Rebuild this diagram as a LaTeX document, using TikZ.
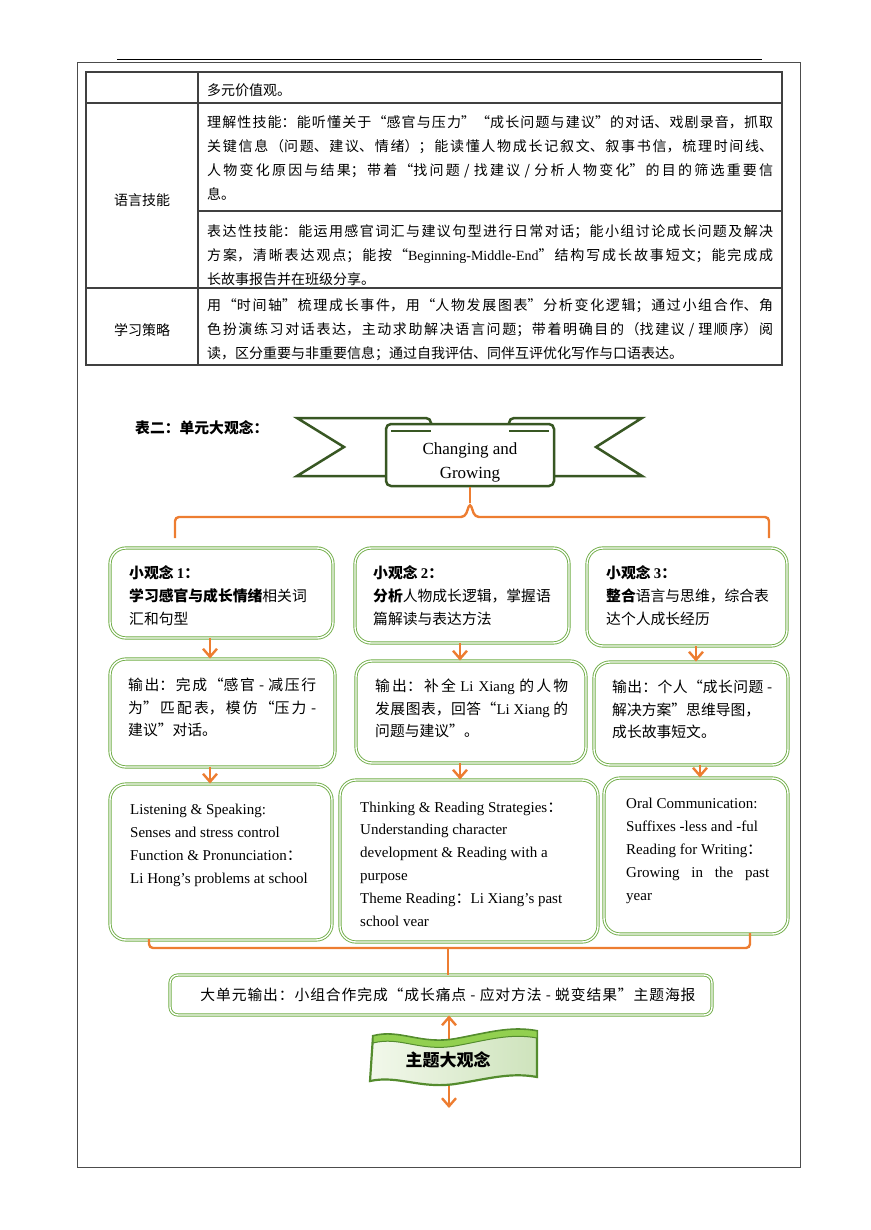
\documentclass[tikz,border=0pt]{standalone}
\usepackage{fontspec}
\setmainfont{Liberation Serif}
\newfontfamily\cjk{Noto Sans CJK SC}
\XeTeXlinebreaklocale "zh"
\XeTeXlinebreakskip=0pt plus 3pt
\tolerance=9999
\usepackage{xcolor}
\definecolor{boxgreen}{RGB}{112,173,71}
\definecolor{flowcolor}{RGB}{237,125,49}
\definecolor{bannergreen}{RGB}{56,87,35}
\definecolor{ribbondark}{RGB}{84,140,46}
\definecolor{ribbontop}{RGB}{146,208,80}
\definecolor{ribbonlight}{RGB}{242,248,235}
\definecolor{ribbonmid}{RGB}{206,227,188}
\usepackage{tikz}
\usetikzlibrary{arrows.meta}
\newcommand{\lat}[1]{{\rmfamily #1}}

\begin{document}
\begin{tikzpicture}[x=1pt, y=-1pt, >={Straight Barb[length=8pt,width=14pt]},
    tableline/.style={black!75, line width=1.1pt},
    celltext/.style={anchor=west, inner sep=0pt, text width=566pt, align=justify, font=\cjk\fontsize{14}{24}\selectfont},
    zhtext/.style={anchor=west, inner sep=0pt, align=left, font=\cjk\fontsize{14.8}{22.7}\selectfont},
    entext/.style={anchor=west, inner sep=0pt, align=left, font=\fontsize{15}{22.8}\selectfont},
    greenbox/.style={draw=boxgreen, double=white, double distance=1.4pt, line width=0.9pt, rounded corners=16pt, inner sep=0pt},
    flow/.style={->, draw=flowcolor, line width=2.4pt},
    brace/.style={draw=flowcolor, line width=2.4pt, rounded corners=4pt},
    banner/.style={draw=bannergreen, fill=white, line width=2.5pt, line join=miter}]
    \useasboundingbox (0,0) rectangle (870,1230);

    % page frame and table
    \draw[black, line width=0.8pt] (117,59) -- (762,59);
    \draw[black!70, line width=1pt] (77.5,63) rectangle (800,1167);
    \draw[tableline] (86,72) rectangle (782,365);
    \draw[tableline] (198,72) -- (198,365);
    \draw[tableline] (86,103) -- (782,103);
    \draw[tableline] (198,211) -- (782,211);
    \draw[tableline] (86,288) -- (782,288);

    \node[celltext] (values) at (207,90) {多元价值观。};
    \node[zhtext, anchor=center, font=\cjk\fontsize{14}{24}\selectfont] (skills) at (142,200) {语言技能};
    \node[zhtext, anchor=center, font=\cjk\fontsize{14}{24}\selectfont] (strategy) at (142,330) {学习策略};
    \node[celltext] (understand) at (207,158) {理解性技能：能听懂关于“感官与压力”“成长问题与建议”的对话、戏剧录音，抓取\linebreak 关键信息（问题、建议、情绪）；能读懂人物成长记叙文、叙事书信，梳理时间线、\linebreak 人物变化原因与结果；带着“找问题 / 找建议 / 分析人物变化”的目的筛选重要信\linebreak 息。};
    \node[celltext] (express) at (207,255) {表达性技能：能运用感官词汇与建议句型进行日常对话；能小组讨论成长问题及解决\linebreak 方案，清晰表达观点；能按“\lat{Beginning-Middle-End}”结构写成长故事短文；能完成成\linebreak 长故事报告并在班级分享。};
    \node[celltext] (method) at (207,330) {用“时间轴”梳理成长事件，用“人物发展图表”分析变化逻辑；通过小组合作、角\linebreak 色扮演练习对话表达，主动求助解决语言问题；带着明确目的（找建议 / 理顺序）阅\linebreak 读，区分重要与非重要信息；通过自我评估、同伴互评优化写作与口语表达。};

    % unit title banner
    \node[zhtext] (tabletitle) at (135,428) {\bfseries 表二：单元大观念：};
    \filldraw[banner] (386,476) -- (297,476) -- (344,447) -- (297,418) [rounded corners=5pt] -- (431,418) -- (431,432);
    \filldraw[banner] (554,476) -- (642,476) -- (596,447) -- (642,418) [rounded corners=5pt] -- (509,418) -- (509,432);
    \node[banner, rounded corners=5pt, minimum width=168pt, minimum height=62pt, inner sep=0pt, align=center,
        font=\fontsize{17}{24}\selectfont] (theme) at (470,455) {\rule{0pt}{26pt}Changing and\\Growing};
    \draw[bannergreen, line width=1.2pt] (391,431) -- (431,431) (509,431) -- (549,431);

    \draw[brace] (theme.south) -- (470,503);
    \draw[brace] (175,538) -- (175,517) -- (465,517) -- (470,503) -- (475,517) -- (769,517) -- (769,538);

    % small ideas
    \node[greenbox, minimum width=223pt, minimum height=90pt] (idea1) at (221.5,593) {};
    \node[greenbox, minimum width=214pt, minimum height=95pt] (idea2) at (462,595.5) {};
    \node[greenbox, minimum width=200pt, minimum height=98pt] (idea3) at (687,597) {};
    \node[zhtext] (idea1text) at (129,595.5) {\bfseries 小观念 \lat{1}：\\{\bfseries 学习感官与成长情绪}相关词\\汇和句型};
    \node[zhtext] (idea2text) at (373,595.5) {\bfseries 小观念 \lat{2}：\\{\bfseries 分析}人物成长逻辑，掌握语\\篇解读与表达方法};
    \node[zhtext] (idea3text) at (606,595.5) {\bfseries 小观念 \lat{3}：\\{\bfseries 整合}语言与思维，综合表\\达个人成长经历};

    % outputs
    \node[greenbox, minimum width=225pt, minimum height=108pt] (out1) at (222.5,713) {};
    \node[greenbox, minimum width=230pt, minimum height=102pt] (out2) at (471,712) {};
    \node[greenbox, minimum width=194pt, minimum height=103pt] (out3) at (691,713.5) {};
    \node[zhtext, text width=188pt, align=justify] (out1text) at (128,707.5) {输出：完成“感官 - 减压行\linebreak 为”匹配表，模仿“压力 -\linebreak 建议”对话。};
    \node[zhtext, text width=193pt, align=justify] (out2text) at (375,708.5) {输出：补全 \lat{Li Xiang} 的人物\linebreak 发展图表，回答“\lat{Li Xiang} 的\linebreak 问题与建议”。};
    \node[zhtext, text width=160pt, align=justify] (out3text) at (612,709.5) {输出：个人“成长问题 -\linebreak 解决方案”思维导图，\newline 成长故事短文。};

    % textbook sections
    \node[greenbox, minimum width=222pt, minimum height=156pt] (sec1) at (221,862) {};
    \node[greenbox, minimum width=258pt, minimum height=162pt] (sec2) at (469,861) {};
    \node[greenbox, minimum width=184pt, minimum height=156pt] (sec3) at (696,856) {};
    \node[entext] (sec1text) at (130,845.5) {Listening \& Speaking:\\Senses and stress control\\Function \& Pronunciation{\cjk ：}\\Li Hong’s problems at school};
    \node[entext] (sec2text) at (360,864) {Thinking \& Reading Strategies{\cjk ：}\\Understanding character\\development \& Reading with a\\purpose\\Theme Reading{\cjk ：}Li Xiang’s past\\school vear};
    \node[entext, text width=143pt, align=justify] (sec3text) at (626,851) {Oral Communication:\newline Suffixes -less and -ful\newline Reading for Writing{\cjk ：}\newline Growing in the past\linebreak year};

    \draw[flow] ([xshift=-11.5pt]idea1.south) -- ([xshift=-12.5pt]out1.north);
    \draw[flow] ([xshift=-2pt]idea2.south) -- ([xshift=-11pt]out2.north);
    \draw[flow] ([xshift=9pt]idea3.south) -- ([xshift=5pt]out3.north);
    \draw[flow] ([xshift=-12.5pt]out1.south) -- ([xshift=-11pt]sec1.north);
    \draw[flow] ([xshift=-11pt]out2.south) -- ([xshift=-9pt]sec2.north);
    \draw[flow] ([xshift=9pt]out3.south) -- ([xshift=4pt]sec3.north);

    % unit output
    \node[greenbox, rounded corners=8pt, minimum width=542pt, minimum height=40pt,
        font=\cjk\addfontfeatures{LetterSpace=6}\fontsize{14.8}{20}\selectfont] (unitout) at (441,995)
        {\hspace*{14pt}大单元输出：小组合作完成“成长痛点 - 应对方法 - 蜕变结果”主题海报};
    \draw[brace] (149,939) -- (149,948) -- (750,948) -- (750,933);
    \draw[brace] (448,948) -- ([xshift=7pt]unitout.north);

    % big idea ribbon
    \coordinate (bigend) at (449,1108);
    \draw[flow, <->] ([xshift=8pt]unitout.south) -- (bigend);
    \path[draw=ribbondark, line width=2.2pt, left color=ribbonlight, right color=ribbonmid]
        (373,1036) .. controls (400,1029) and (420,1045) .. (455,1039)
        .. controls (488,1033) and (510,1026) .. (537,1031) -- (537,1077)
        .. controls (510,1072) and (488,1079) .. (455,1084)
        .. controls (420,1089) and (398,1075) .. (370,1081) -- cycle;
    \path[draw=ribbondark, line width=1pt, fill=ribbontop]
        (373,1036) .. controls (400,1029) and (420,1045) .. (455,1039)
        .. controls (488,1033) and (510,1026) .. (537,1031) -- (537,1038)
        .. controls (510,1033) and (488,1040) .. (455,1046)
        .. controls (420,1052) and (400,1036) .. (373,1043) -- cycle;
    \node[font=\cjk\bfseries\fontsize{17}{20}\selectfont] (bigidea) at (448,1060) {主题大观念};
\end{tikzpicture}
\end{document}
